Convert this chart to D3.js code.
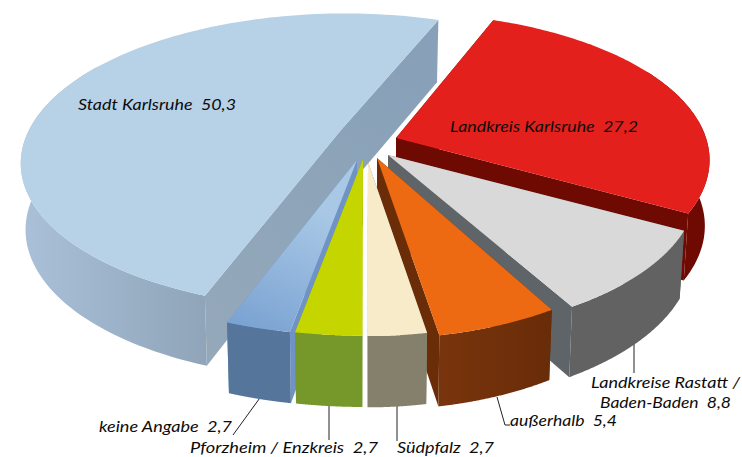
<!DOCTYPE html>
<html><head><meta charset="utf-8">
<script src="https://cdn.jsdelivr.net/npm/d3@7/dist/d3.min.js"></script>
<style>html,body{margin:0;padding:0;background:#fff}svg{display:block}text{font-family:Lato,"Open Sans",sans-serif;font-style:italic;font-size:15.5px;fill:#0c0c0c}</style>
</head><body><svg id="c" width="742" height="457"></svg>
<script>
const categories=["Landkreis Karlsruhe","Landkreise Rastatt / Baden-Baden","außerhalb","Südpfalz","Pforzheim / Enzkreis","keine Angabe","Stadt Karlsruhe"];
const values=[27.2,8.8,5.4,2.7,2.7,2.7,50.3];
const valueLabels=["27,2","8,8","5,4","2,7","2,7","2,7","50,3"];
const topColors=["#e4201c","#d9d9d9","#ee6a12","#f8ebc9","#c5d500","url(#gKeine)","#b7d1e7"];
const wallColors=["#6f0a03","#626262","url(#gAus)","#85806c","#76982a","#55769a","url(#gBig)"];
const cutColors=["#6f0a03","#5f6468","#6b2d08","#85806c","#76982a","#6f93c6","url(#gCut)"];
const apexX=[396,388,377,368,363,357,341];
const apexY=[138,155,158,162,159,160,130];
const radiusX=[310,300,285,270,306,302,312];
const radiusY=[144,138,138,133,135,134,141];
const persp=[.15,.236,.236,.236,.236,.236,.21];
const skew=[0,0,0,0,0,0,5];
const paintOrder=[6,0,1,2,3,5,4];

const svg=d3.select("#c");
const defs=svg.append("defs");
function grad(id,x1,y1,x2,y2,stops){const g=defs.append("linearGradient").attr("id",id).attr("gradientUnits","userSpaceOnUse").attr("x1",x1).attr("y1",y1).attr("x2",x2).attr("y2",y2);
 stops.forEach(s=>g.append("stop").attr("offset",s[0]).attr("stop-color",s[1]));}
grad("gKeine",300,200,240,325,[[0,"#a9c8e6"],[1,"#7ba3d2"]]);
grad("gAus",430,0,555,0,[[0,"#7a350d"],[1,"#682c08"]]);
grad("gBig",25,0,210,0,[[0,"#a9c0d8"],[1,"#8fa4b8"]]);
grad("gCut",400,60,230,350,[[0,"#88a1b8"],[1,"#94a8ba"]]);

const line=d3.line();
const leaders=[[[634,343],[634,373]],[[497,397],[505,425],[510,425]],[[397,400],[397,441]],[[329,400],[329,440]],[[262,395],[233,435]]];
leaders.forEach(l=>svg.append("path").attr("d",line(l)).attr("fill","none").attr("stroke","#222").attr("stroke-width",1));

const pie=d3.pie().sort(null).startAngle(21*Math.PI/180).endAngle((21+360)*Math.PI/180);
const arcs=pie(values);
function sliceGeom(a,i){
 const p=(u,v,h)=>{const s=1/(1+persp[i]*v);const d=h*(46.4+19*s);
   return [apexX[i]+(radiusX[i]*u*(1-0.015*h)+skew[i]*v)*s,apexY[i]-radiusY[i]*v*s+d];};
 const rim=(t,h)=>p(Math.sin(t),Math.cos(t),h);
 const ts=d3.range(0,121).map(j=>a.startAngle+(a.endAngle-a.startAngle)*j/120);
 const front=ts.filter(t=>Math.cos(t)<0.5);
 return {
  top:[p(0,0,0),...ts.map(t=>rim(t,0))],
  wall:[...front.map(t=>rim(t,0)),...front.slice().reverse().map(t=>rim(t,1))],
  c1:[p(0,0,0),rim(a.startAngle,0),rim(a.startAngle,1),p(0,0,1)],
  c2:[p(0,0,0),rim(a.endAngle,0),rim(a.endAngle,1),p(0,0,1)]};
}
const g=svg.append("g");
paintOrder.forEach(i=>{
 const s=sliceGeom(arcs[i],i);
 g.append("path").attr("d",line(s.c1)+"Z").attr("fill",cutColors[i]);
 g.append("path").attr("d",line(s.c2)+"Z").attr("fill",cutColors[i]);
 g.append("path").attr("d",line(s.wall)+"Z").attr("fill",wallColors[i]);
 g.append("path").attr("d",line(s.top)+"Z").attr("fill",topColors[i]);
});
const labels=[
 {t:categories[0]+"  "+valueLabels[0],x:450,y:132,w:188},
 {t:"Landkreise Rastatt /",x:591,y:388,w:149},
 {t:"Baden-Baden  "+valueLabels[1],x:600,y:408,w:131},
 {t:categories[2]+"  "+valueLabels[2],x:510,y:426,w:107},
 {t:categories[3]+"  "+valueLabels[3],x:397,y:453,w:97},
 {t:categories[4]+"  "+valueLabels[4],x:190,y:453,w:188},
 {t:categories[5]+"  "+valueLabels[5],x:99,y:432,w:133},
 {t:categories[6]+"  "+valueLabels[6],x:78,y:110,w:158}];
labels.forEach(l=>svg.append("text").attr("x",l.x).attr("y",l.y).attr("textLength",l.w).attr("lengthAdjust","spacingAndGlyphs").style("white-space","pre").text(l.t));
</script></body></html>
